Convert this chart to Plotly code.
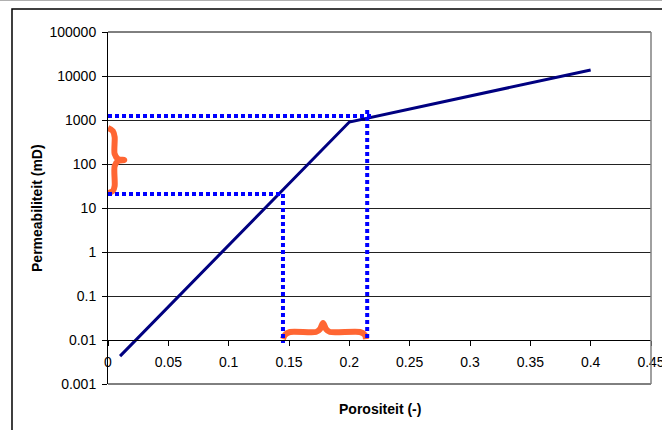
import plotly.graph_objects as go

# ---- data ----
porosity = [0.01, 0.2, 0.4]
permeability = [0.0043, 900, 13700]

low_dot_x = [0, 0.145, 0.145]
low_dot_y = [20.8, 20.8, 0.0085]
high_dot_h_x = [0, 0.2196]
high_dot_h_y = [1235, 1235]
high_dot_v_x = [0.2148, 0.2148]
high_dot_v_y = [1690, 0.01]

brace_v_x = [0, 0.004, 0.0055, 0.0055, 0.0083, 0.0135, 0.0083, 0.0055, 0.0055, 0.004, 0]
brace_v_y = [658, 562, 411, 169, 130, 123, 117, 90, 31.6, 24.3, 21.9]

brace_h_x = [0.145, 0.1466, 0.1508, 0.1724, 0.1756, 0.1782, 0.1808, 0.1839, 0.2088, 0.2129, 0.2138]
brace_h_y = [0.0105, 0.013, 0.0152, 0.0152, 0.0175, 0.0243, 0.0175, 0.0152, 0.0152, 0.013, 0.0105]

x_ticks = [0, 0.05, 0.1, 0.15, 0.2, 0.25, 0.3, 0.35, 0.4, 0.45]
x_tick_labels = ["0", "0.05", "0.1", "0.15", "0.2", "0.25", "0.3", "0.35", "0.4", "0.45"]
y_ticks = [0.001, 0.01, 0.1, 1, 10, 100, 1000, 10000, 100000]
y_tick_labels = ["0.001", "0.01", "0.1", "1", "10", "100", "1000", "10000", "100000"]

FONT = "Liberation Sans, Arial, sans-serif"
FS = 14
BLUE_DOT = dict(color="#0000FF", width=4, dash="4px,3px")
ORANGE = dict(color="#FF6633", width=6, shape="spline", smoothing=0.8)

fig = go.Figure()
fig.add_trace(go.Scatter(x=porosity, y=permeability, mode="lines",
                         line=dict(color="#000080", width=3), showlegend=False))
fig.add_trace(go.Scatter(x=brace_v_x, y=brace_v_y, mode="lines", line=ORANGE,
                         showlegend=False, cliponaxis=False))
fig.add_trace(go.Scatter(x=brace_h_x, y=brace_h_y, mode="lines", line=ORANGE,
                         showlegend=False))
fig.add_trace(go.Scatter(x=low_dot_x, y=low_dot_y, mode="lines", line=BLUE_DOT, showlegend=False))
fig.add_trace(go.Scatter(x=high_dot_h_x, y=high_dot_h_y, mode="lines", line=BLUE_DOT, showlegend=False))
fig.add_trace(go.Scatter(x=high_dot_v_x, y=high_dot_v_y, mode="lines", line=BLUE_DOT, showlegend=False))

fig.update_layout(
    width=662, height=430,
    margin=dict(l=108, r=11, t=32, b=46, autoexpand=False),
    paper_bgcolor="white", plot_bgcolor="white",
    font=dict(family=FONT, size=FS, color="black"),
    showlegend=False,
    xaxis=dict(range=[0, 0.45], tickvals=x_ticks, ticktext=x_tick_labels,
               showgrid=False, zeroline=False, showline=True, linecolor="black", linewidth=1,
               ticks="outside", ticklen=5, tickcolor="black",
               anchor="free", position=0.125, ticklabelstandoff=4, automargin=False,
               ticklabeloverflow="allow",
               tickfont=dict(family=FONT, size=FS)),
    yaxis=dict(type="log", range=[-3, 5], tickvals=y_ticks, ticktext=y_tick_labels,
               showgrid=True, gridcolor="#222222", gridwidth=1, zeroline=False,
               showline=True, linecolor="black", linewidth=1,
               ticks="outside", ticklen=5, tickcolor="black", automargin=False,
               ticklabelstandoff=3, ticklabeloverflow="allow",
               tickfont=dict(family=FONT, size=FS)),
    shapes=[
        dict(type="line", xref="paper", yref="paper", x0=0, x1=1, y0=1, y1=1,
             line=dict(color="black", width=1)),
        dict(type="line", xref="paper", yref="paper", x0=0, x1=1, y0=0, y1=0,
             line=dict(color="black", width=1)),
        dict(type="line", xref="paper", yref="paper", x0=1, x1=1, y0=0, y1=1,
             line=dict(color="#808080", width=1.5)),
        dict(type="rect", xref="paper", yref="paper", x0=-0.1768, x1=1.06, y0=-0.2, y1=1.0653,
             line=dict(color="black", width=1.5), layer="below"),
        dict(type="line", xref="paper", yref="paper", x0=-0.3, x1=1.1, y0=1.0895, y1=1.0895,
             line=dict(color="#B0B0B0", width=1)),
    ],
    annotations=[
        dict(text="<b>Permeabiliteit (mD)</b>", xref="paper", yref="paper",
             x=-0.1308, y=0.5, textangle=-90, showarrow=False,
             xanchor="center", yanchor="middle", font=dict(family=FONT, size=FS)),
        dict(text="<b>Porositeit (-)</b>", xref="paper", yref="paper",
             x=0.5, y=-0.071, showarrow=False,
             xanchor="center", yanchor="middle", font=dict(family=FONT, size=FS)),
    ],
)

fig.write_html("out.html", config={"displayModeBar": False},
               post_script="document.body.style.margin='0';document.body.style.overflow='hidden';")
